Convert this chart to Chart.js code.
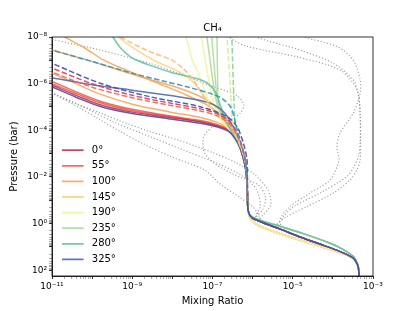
<!DOCTYPE html>
<html>
<head>
<meta charset="utf-8">
<script src="https://cdn.jsdelivr.net/npm/chart.js@4.4.1/dist/chart.umd.min.js"></script>
<style>
  html, body { margin: 0; padding: 0; background: #fff; }
</style>
</head>
<body>
<canvas id="chart" width="415" height="311"></canvas>
<script>
// values are [log10 mixing ratio, log10 pressure(bar)]
const angles = ["0°", "55°", "100°", "145°", "190°", "235°", "280°", "325°"];

const xTickExps = [-11, -9, -7, -5, -3];
const xTickLabels = ["10⁻¹¹", "10⁻⁹", "10⁻⁷", "10⁻⁵", "10⁻³"];
const yTickExps = [-8, -6, -4, -2, 0, 2];
const yTickLabels = ["10⁻⁸", "10⁻⁶", "10⁻⁴", "10⁻²", "10⁰", "10²"];

// deep part shared by the bundle
const tailMid = [[-6.3,-3.2],[-6.2,-2.6],[-6.15,-2.0],[-6.13,-1.2],[-6.11,-0.55],[-6.03,-0.27],[-5.75,-0.05],[-5.36,0.2],[-4.8,0.58],[-4.2,0.95],[-3.82,1.2],[-3.5,1.47],[-3.38,1.78],[-3.35,2.1],[-3.35,2.4]];
const tailLow = [[-6.3,-3.2],[-6.2,-2.6],[-6.15,-2.0],[-6.13,-1.2],[-6.11,-0.55],[-6.05,-0.2],[-5.85,0.08],[-5.45,0.35],[-4.9,0.66],[-4.3,0.98],[-3.85,1.22],[-3.5,1.48],[-3.38,1.78],[-3.35,2.1],[-3.35,2.4]];
const tailHigh = [[-6.3,-3.2],[-6.2,-2.6],[-6.15,-2.0],[-6.13,-1.2],[-6.11,-0.55],[-6.02,-0.3],[-5.7,-0.08],[-5.3,0.12],[-4.7,0.45],[-4.1,0.82],[-3.75,1.1],[-3.48,1.42],[-3.38,1.75],[-3.35,2.1],[-3.35,2.4]];

// upper parts, solid lines
const up0 = [[-11.3,-6.14],[-11,-5.93],[-10.4,-5.5],[-9.8,-5.1],[-9,-4.78],[-8.1,-4.56],[-7.3,-4.36],[-6.9,-4.2],[-6.6,-4.0],[-6.42,-3.63]];
const up55 = [[-11.3,-6.32],[-11,-6.1],[-10.4,-5.65],[-9.8,-5.25],[-9,-4.9],[-8.1,-4.63],[-7.3,-4.42],[-6.9,-4.25],[-6.58,-4.02],[-6.4,-3.62]];
const up100 = [[-10.85,-8.3],[-10.68,-8],[-10.2,-7.55],[-9.7,-7.0],[-9.1,-6.55],[-8.4,-6.05],[-7.7,-5.55],[-7.15,-5.1],[-6.8,-4.65],[-6.55,-4.1],[-6.4,-3.62]];
const up145 = [[-9.45,-8.2],[-9.35,-8],[-8.9,-7.45],[-8.4,-6.95],[-8.0,-6.65],[-7.6,-6.25],[-7.3,-5.7],[-7.05,-5.05],[-6.8,-4.5],[-6.55,-4.0],[-6.4,-3.55]];
const up190 = [[-7.7,-8.2],[-7.66,-8],[-7.5,-7.0],[-7.32,-6.3],[-7.15,-5.5],[-7.0,-4.9],[-6.75,-4.35],[-6.5,-3.85],[-6.38,-3.5]];
const up235 = [[-7.03,-8.2],[-7.02,-8],[-6.97,-7.0],[-6.92,-6.0],[-6.88,-5.3],[-6.8,-4.8],[-6.6,-4.15],[-6.42,-3.6]];
const up280 = [[-9.55,-8.2],[-9.48,-8],[-9.3,-7.55],[-9.0,-7.1],[-8.5,-6.75],[-8.0,-6.47],[-7.5,-6.27],[-7.15,-6.05],[-6.93,-5.65],[-6.8,-5.05],[-6.65,-4.35],[-6.47,-3.75]];
const up325 = [[-11.3,-6.34],[-11,-6.25],[-10,-5.95],[-9,-5.72],[-8,-5.48],[-7.3,-5.28],[-6.95,-5.08],[-6.7,-4.75],[-6.5,-4.2],[-6.37,-3.6]];

// other solid runs
const upOrangeB = [[-11.3,-7.6],[-11,-7.44],[-10,-6.95],[-8.8,-6.3],[-7.9,-5.85],[-7.3,-5.45],[-6.9,-5.0],[-6.65,-4.5],[-6.48,-3.95],[-6.38,-3.55]];
const upOrangeC = [[-11.3,-6.67],[-11,-6.45],[-10.4,-6.0],[-9.8,-5.55],[-9,-5.12],[-8.1,-4.8],[-7.3,-4.55],[-6.9,-4.35],[-6.6,-4.08],[-6.42,-3.65]];
const upRedB = [[-11.3,-6.2],[-11,-6.0],[-10.4,-5.58],[-9.8,-5.18],[-9,-4.84],[-8.1,-4.6],[-7.3,-4.39],[-6.9,-4.22],[-6.6,-4.01],[-6.42,-3.63]];
const upYellowB = [[-7.3,-8.2],[-7.28,-8],[-7.18,-7.0],[-7.08,-6.0],[-6.98,-5.2],[-6.85,-4.7],[-6.6,-4.1],[-6.42,-3.55]];
const upGreenB = [[-7.15,-8.2],[-7.14,-8],[-7.06,-7.0],[-6.98,-6.0],[-6.9,-5.2],[-6.8,-4.75],[-6.6,-4.15],[-6.42,-3.58]];
const upGreenC = [[-6.9,-8.2],[-6.89,-8],[-6.88,-7.0],[-6.87,-6.0],[-6.86,-5.3],[-6.78,-4.8],[-6.58,-4.15],[-6.41,-3.58]];
const upPurple = [[-11.3,-6.08],[-11,-5.86],[-10.4,-5.42],[-9.8,-5.02],[-9,-4.72],[-8.1,-4.5],[-7.3,-4.3],[-6.9,-4.15],[-6.6,-3.95],[-6.42,-3.6]];

// dashed
const dashTeal = [[-11.3,-7.6],[-11,-7.44],[-10,-6.95],[-9,-6.45],[-8.2,-6.1],[-7.64,-5.87],[-7.0,-5.55],[-6.75,-5.35],[-6.55,-5.0],[-6.45,-4.5],[-6.38,-4.0],[-6.28,-3.4],[-6.18,-2.7],[-6.14,-2.0],[-6.13,-1.0]];
const dashBlue = [[-11.3,-7.08],[-11,-6.87],[-9.8,-6.02],[-8.56,-5.44],[-7.31,-5.01],[-6.64,-4.59],[-6.39,-4.16],[-6.23,-3.45],[-6.14,-2.73],[-6.13,-2.0],[-6.12,-1.0]];
const dashCrimson = [[-11.3,-6.9],[-11,-6.67],[-10,-6.0],[-9,-5.5],[-8,-5.15],[-7.3,-4.92],[-6.9,-4.72],[-6.6,-4.42],[-6.42,-4.0],[-6.28,-3.4],[-6.18,-2.7],[-6.14,-2.0],[-6.13,-1.0]];
const dashRed = [[-11.3,-6.75],[-11,-6.5],[-10,-5.85],[-9,-5.4],[-8,-5.05],[-7.3,-4.83],[-6.9,-4.63],[-6.6,-4.32],[-6.43,-3.92],[-6.28,-3.35],[-6.18,-2.7],[-6.14,-2.0],[-6.13,-1.0]];
const dashOrange = [[-9.45,-8.2],[-9.3,-8],[-8.6,-7.4],[-8.0,-7.0],[-7.7,-6.6],[-7.45,-6.1],[-7.2,-5.4],[-6.95,-4.85],[-6.65,-4.4],[-6.45,-3.9],[-6.3,-3.3],[-6.18,-2.6],[-6.14,-2.0],[-6.13,-1.0]];
const dashLime = [[-6.66,-8.2],[-6.64,-8],[-6.6,-7.0],[-6.56,-6.0],[-6.53,-5.0],[-6.5,-4.3],[-6.4,-3.7],[-6.28,-3.2],[-6.18,-2.6],[-6.14,-2.0],[-6.13,-1.0]];
const dashGreen = [[-6.54,-8.2],[-6.52,-8],[-6.5,-7.0],[-6.48,-6.0],[-6.46,-5.0],[-6.44,-4.3],[-6.36,-3.7],[-6.26,-3.2],[-6.18,-2.6],[-6.14,-2.0],[-6.13,-1.0]];

// grey dotted
const dot1 = [[-11.3,-8.05],[-11,-7.9],[-9.8,-7.44],[-8.56,-6.87],[-7.64,-6.3],[-6.98,-5.87],[-6.4,-5.5],[-6.22,-5.1],[-6.3,-4.75],[-6.55,-4.45],[-7.0,-4.15],[-7.22,-3.7],[-7.2,-3.05],[-6.9,-2.52],[-6.39,-2.05],[-5.85,-1.65],[-5.68,-1.1],[-5.75,-0.6],[-5.92,-0.25],[-5.75,-0.05],[-5.36,0.2],[-4.8,0.58]];
const dot2 = [[-11.3,-5.85],[-11,-5.6],[-10.22,-5.0],[-9.39,-4.3],[-8.56,-3.73],[-7.73,-3.16],[-6.89,-2.59],[-6.23,-2.02],[-5.9,-1.45],[-5.81,-0.73],[-5.92,-0.3],[-5.75,-0.05],[-5.36,0.2],[-4.8,0.58]];
const dot3 = [[-11.3,-5.85],[-11,-5.6],[-10.4,-5.15],[-9.8,-4.75],[-9.3,-4.4],[-8.56,-3.95],[-7.8,-3.55],[-7.0,-3.05],[-6.4,-2.6],[-5.95,-2.1],[-5.62,-1.45],[-5.55,-0.8],[-5.75,-0.35],[-5.85,-0.12],[-5.36,0.2],[-4.8,0.58]];
const dot4 = [[-11.3,-5.85],[-11,-5.6],[-10.3,-4.95],[-9.8,-4.45],[-9.3,-3.95],[-8.7,-3.4],[-8.0,-2.85],[-7.2,-2.3],[-6.81,-1.7],[-6.3,-1.1],[-5.98,-0.7],[-5.85,-0.35],[-5.75,-0.05],[-5.36,0.2],[-4.8,0.58]];
const dot5 = [[-6.0,-8.3],[-5.9,-8],[-4.82,-7.44],[-3.99,-6.87],[-3.49,-6.16],[-3.36,-5.44],[-3.32,-4.74],[-3.31,-3.5],[-3.32,-2.73],[-3.4,-2.3],[-3.57,-1.88],[-3.99,-1.31],[-4.65,-0.73],[-5.15,-0.3],[-5.4,0.1],[-4.8,0.58]];
const dot6 = [[-6.7,-8.3],[-6.6,-8],[-6.14,-7.6],[-4.9,-7.15],[-3.82,-6.58],[-3.4,-5.74],[-3.32,-4.6],[-3.32,-3.5],[-3.36,-2.9],[-3.49,-2.4],[-3.65,-2.02],[-4.32,-1.31],[-4.98,-0.73],[-5.23,-0.3],[-5.36,0.15],[-4.8,0.58]];
const dot7 = [[-4.8,-8.2],[-4.69,-8],[-3.87,-7.57],[-3.49,-7.0],[-3.32,-6.16],[-3.32,-5.6],[-3.49,-4.74],[-3.82,-3.89],[-3.9,-3.3],[-3.85,-2.7],[-4.07,-1.88],[-4.57,-1.31],[-5.07,-0.73],[-5.32,-0.16],[-5.2,0.28],[-4.8,0.58]];

const lineColors = [
  "rgba(180,30,80,0.8)", "rgba(235,85,65,0.85)", "rgba(250,165,90,0.9)", "rgba(253,212,135,0.9)",
  "rgba(240,244,160,0.95)", "rgba(175,220,155,0.9)", "rgba(100,195,165,0.9)", "rgba(75,105,180,0.9)"
];

function pts(arr) {
  return arr.map(p => ({ x: Math.pow(10, p[0]), y: Math.pow(10, p[1]) }));
}

function series(label, arr, color, width, dash, order) {
  return {
    label: label,
    data: pts(arr),
    borderColor: color,
    backgroundColor: color,
    borderWidth: width,
    borderDash: dash,
    pointRadius: 0,
    pointHoverRadius: 0,
    showLine: true,
    tension: 0.3,
    fill: false,
    clip: 0,
    order: order,
  };
}

const mainRuns = [
  up0.concat(tailMid), up55.concat(tailMid), up100.concat(tailLow), up145.concat(tailLow),
  up190.concat(tailLow), up235.concat(tailHigh), up280.concat(tailHigh), up325.concat(tailMid)
];

const datasets = mainRuns.map((run, i) => series(angles[i], run, lineColors[i], 1.5, [], 10 - i));

const dotColor = "rgba(150,150,150,0.85)";
[dot1, dot2, dot3, dot4, dot5, dot6, dot7].forEach(d => datasets.push(series("", d, dotColor, 1.2, [1.2, 2], 40)));

datasets.push(series("", upOrangeB.concat(tailLow), lineColors[2], 1.5, [], 20));
datasets.push(series("", upOrangeC.concat(tailLow), lineColors[2], 1.5, [], 20));
datasets.push(series("", upRedB.concat(tailMid), lineColors[1], 1.5, [], 20));
datasets.push(series("", upYellowB.concat(tailLow), lineColors[4], 1.5, [], 20));
datasets.push(series("", upGreenB.concat(tailHigh), lineColors[5], 1.5, [], 20));
datasets.push(series("", upGreenC.concat(tailHigh), lineColors[5], 1.5, [], 20));
datasets.push(series("", upPurple.concat(tailMid), "rgba(80,75,160,0.9)", 1.5, [], 1));

datasets.push(series("", dashTeal, "rgba(55,155,190,0.95)", 1.5, [5.5, 2.4], 0));
datasets.push(series("", dashBlue, "rgba(75,85,170,0.95)", 1.5, [5.5, 2.4], 0));
datasets.push(series("", dashCrimson, "rgba(215,60,90,0.9)", 1.5, [5.5, 2.4], 0));
datasets.push(series("", dashRed, "rgba(240,100,75,0.9)", 1.5, [5.5, 2.4], 0));
datasets.push(series("", dashOrange, "rgba(252,190,120,0.95)", 1.5, [5.5, 2.4], 0));
datasets.push(series("", dashLime, "rgba(215,236,150,0.95)", 1.5, [5.5, 2.4], 0));
datasets.push(series("", dashGreen, "rgba(140,210,160,0.95)", 1.5, [5.5, 2.4], 0));

function logTicks(lo, hi, maxVal) {
  const out = [];
  for (let e = lo; e <= hi; e++) {
    for (let m = 1; m <= 9; m++) {
      const v = m * Math.pow(10, e);
      if (v > maxVal * 1.0001) break;
      out.push({ value: v, major: m === 1 });
    }
  }
  return out;
}

function tickLabel(exps, labels) {
  return function (value) {
    const e = Math.log10(value);
    const k = exps.findIndex(x => Math.abs(x - e) < 1e-6);
    return k >= 0 ? labels[k] : "";
  };
}

const frame = {
  id: "frame",
  afterLayout(chart) {
    const lg = chart.legend;
    if (lg) {
      lg.left = chart.chartArea.left + 4.4;
      lg.bottom = chart.chartArea.bottom - 6;
    }
  },
  afterDatasetsDraw(chart) {
    const { ctx, chartArea: a } = chart;
    ctx.save();
    ctx.strokeStyle = "#000";
    ctx.lineWidth = 0.8;
    ctx.strokeRect(a.left, a.top, a.right - a.left, a.bottom - a.top);
    ctx.restore();
  },
};

Chart.defaults.font.family = "'DejaVu Sans', sans-serif";
Chart.defaults.color = "#000";

const tickGrid = {
  display: true,
  drawOnChartArea: false,
  drawTicks: true,
  tickLength: 3,
  tickColor: c => (c.tick && c.tick.major ? "#000" : "#333"),
  tickWidth: c => (c.tick && c.tick.major ? 0.8 : 0.4),
};

new Chart(document.getElementById("chart"), {
  type: "scatter",
  data: { datasets: datasets },
  options: {
    responsive: false,
    animation: false,
    events: [],
    layout: { padding: { left: 0, right: 42, top: 0, bottom: 0 } },
    plugins: {
      title: {
        display: true,
        text: "CH₄",
        fullSize: false,
        color: "#000",
        font: { size: 10, weight: "normal" },
        padding: { top: 22, bottom: 3 },
      },
      legend: {
        position: "chartArea",
        align: "end",
        labels: {
          font: { size: 10 },
          boxWidth: 21.6,
          boxHeight: 1.8,
          padding: 5.6,
          color: "#000",
          filter: item => item.datasetIndex < 8,
          sort: (a, b) => a.datasetIndex - b.datasetIndex,
          generateLabels: chart =>
            Chart.defaults.plugins.legend.labels.generateLabels(chart).map(it => ({
              ...it, text: " " + it.text, fillStyle: it.strokeStyle, lineWidth: 0, lineDash: [],
            })),
        },
      },
      tooltip: { enabled: false },
    },
    scales: {
      x: {
        type: "logarithmic",
        min: 1e-11,
        max: 1e-3,
        afterFit: s => { s.height = 35; },
        afterBuildTicks: s => { s.ticks = logTicks(-11, -3, 1e-3); },
        ticks: { autoSkip: false, maxRotation: 0, padding: 2, font: { size: 9 }, callback: tickLabel(xTickExps, xTickLabels) },
        grid: tickGrid,
        border: { display: true, color: "#000", width: 0.8 },
        title: { display: true, text: "Mixing Ratio", font: { size: 10 }, padding: { top: 0, bottom: 4 } },
      },
      y: {
        type: "logarithmic",
        reverse: true,
        min: 1e-8,
        max: 175,
        afterFit: s => { s.width = 52; },
        afterBuildTicks: s => { s.ticks = logTicks(-8, 2, 175); },
        ticks: { autoSkip: false, padding: 2, font: { size: 9 }, callback: tickLabel(yTickExps, yTickLabels) },
        grid: tickGrid,
        border: { display: true, color: "#000", width: 0.8 },
        title: { display: true, text: "Pressure (bar)", font: { size: 10 }, padding: { top: 8, bottom: 0 } },
      },
    },
  },
  plugins: [frame],
});
</script>
</body>
</html>
